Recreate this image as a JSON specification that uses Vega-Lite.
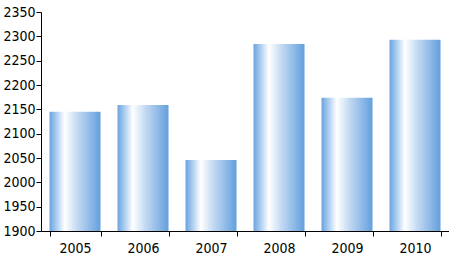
{
  "$schema": "https://vega.github.io/schema/vega-lite/v6.json",
  "width": 408,
  "height": 219,
  "autosize": {"type": "none"},
  "padding": {"left": 41, "top": 12, "right": 0, "bottom": 26},
  "background": "white",
  "config": {
    "view": {"stroke": null},
    "font": "Liberation Sans Narrow, DejaVu Sans Condensed, Liberation Sans, sans-serif"
  },
  "data": {
    "values": [
      {"year": "2005", "value": 2145},
      {"year": "2006", "value": 2159},
      {"year": "2007", "value": 2046},
      {"year": "2008", "value": 2284},
      {"year": "2009", "value": 2174},
      {"year": "2010", "value": 2293}
    ]
  },
  "mark": {
    "type": "bar",
    "fill": {
      "gradient": "linear",
      "x1": 0, "x2": 1, "y1": 0, "y2": 0,
      "stops": [
        {"offset": 0, "color": "#6aa4de"},
        {"offset": 0.12, "color": "#a3c8ee"},
        {"offset": 0.3, "color": "#ffffff"},
        {"offset": 0.55, "color": "#c2d9f2"},
        {"offset": 1, "color": "#62a0dd"}
      ]
    }
  },
  "encoding": {
    "x": {
      "field": "year",
      "type": "nominal",
      "scale": {"paddingInner": 0.25, "paddingOuter": 0.125},
      "axis": {
        "title": null,
        "labelAngle": 0,
        "labelFontSize": 14,
        "labelColor": "#000000",
        "labelPadding": 5,
        "domainColor": "#000000",
        "tickColor": "#000000",
        "tickBand": "extent",
        "tickSize": 5
      }
    },
    "y": {
      "field": "value",
      "type": "quantitative",
      "scale": {"domain": [1900, 2350], "zero": false, "nice": false},
      "axis": {
        "title": null,
        "format": "d",
        "values": [1900, 1950, 2000, 2050, 2100, 2150, 2200, 2250, 2300, 2350],
        "grid": false,
        "labelFontSize": 14,
        "labelColor": "#000000",
        "labelPadding": 1,
        "domainColor": "#000000",
        "tickColor": "#000000",
        "tickSize": 5
      }
    },
    "y2": {"datum": 1900}
  }
}
